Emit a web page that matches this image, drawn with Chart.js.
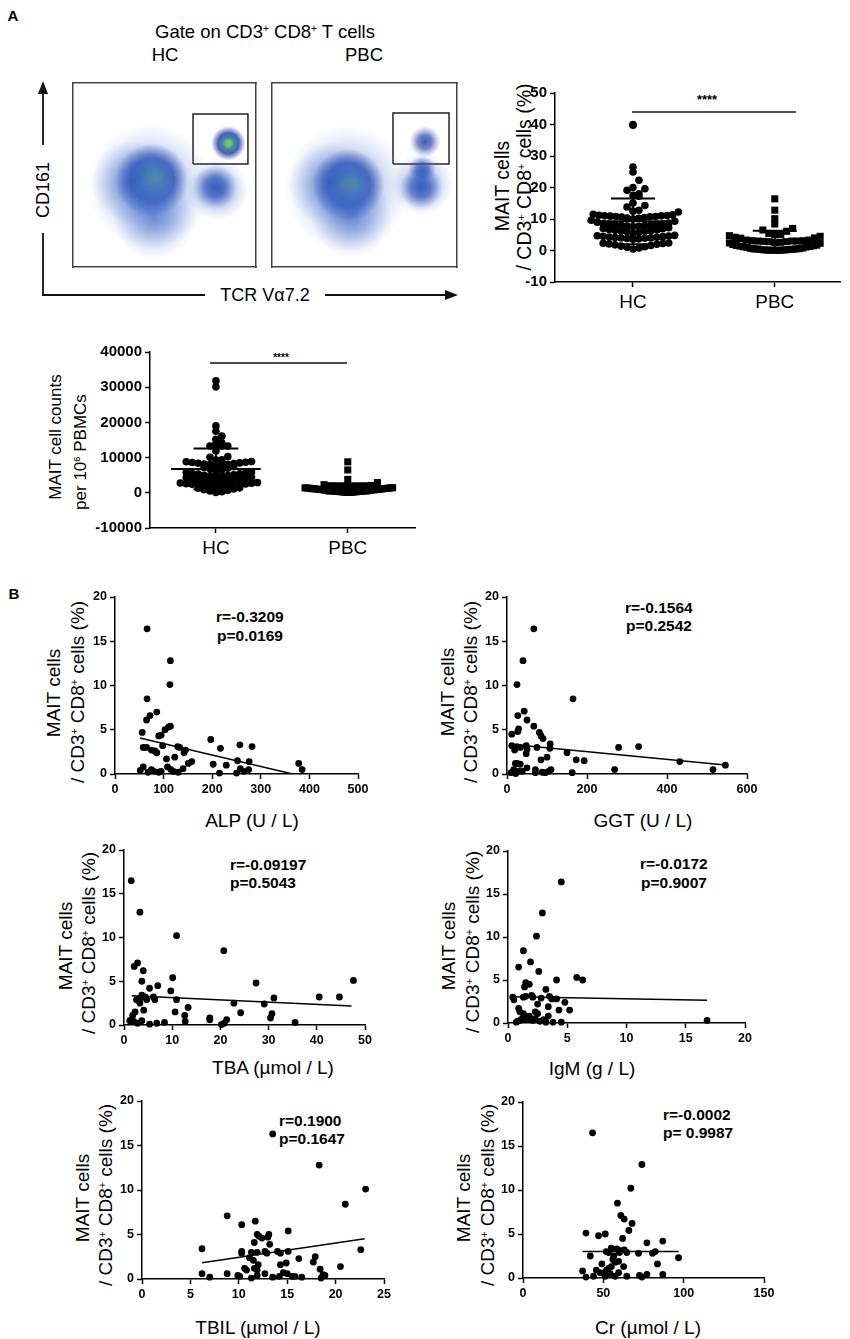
<!DOCTYPE html>
<html>
<head>
<meta charset="utf-8">
<script src="https://cdn.jsdelivr.net/npm/chart.js"></script>
<style>
body { margin: 0; background: #fff; width: 850px; height: 1339px; position: relative; overflow: hidden;
  font-family: Arial, "Liberation Sans", sans-serif; color: #000; }
canvas { position: absolute; }
svg { position: absolute; left: 0; top: 0; }
.t { position: absolute; white-space: nowrap; line-height: 1; transform: translate(-50%, -50%); }
.r { transform: translate(-50%, -50%) rotate(-90deg); }
.l { transform: translate(0, -50%); }
.b { font-weight: bold; }
sup { font-size: 0.55em; vertical-align: 0; position: relative; top: -0.6em; }
</style>
</head>
<body>

<!-- panel A, flow plots -->
<div class="t b" style="left:13px;top:15px;font-size:15px">A</div>
<div class="t" style="left:265px;top:32px;font-size:18.5px">Gate on CD3<sup>+</sup> CD8<sup>+</sup> T cells</div>
<div class="t" style="left:165px;top:55px;font-size:18.5px">HC</div>
<div class="t" style="left:364px;top:55px;font-size:18.5px">PBC</div>
<div class="t r" style="left:43px;top:190px;font-size:18px">CD161</div>
<div class="t" style="left:265px;top:295px;font-size:18px">TCR Vα7.2</div>

<!-- panel A, percentage plot -->
<div class="t r" style="left:503px;top:186px;font-size:19.5px">MAIT cells</div>
<div class="t r" style="left:525px;top:177px;font-size:19.5px">/ CD3<sup>+</sup> CD8<sup>+</sup> cells (%)</div>
<div class="t b" style="left:707px;top:99px;font-size:13px">****</div>

<!-- panel A, counts plot -->
<div class="t r" style="left:55px;top:437px;font-size:17px">MAIT cell counts</div>
<div class="t r" style="left:80px;top:452px;font-size:17px">per 10<sup>6</sup> PBMCs</div>
<div class="t b" style="left:281px;top:358px;font-size:10px">****</div>

<!-- panel B -->
<div class="t b" style="left:14px;top:593px;font-size:15px">B</div>

<div class="t r" style="left:53px;top:693px;font-size:19px">MAIT cells</div>
<div class="t r" style="left:77px;top:692px;font-size:19px">/ CD3<sup>+</sup> CD8<sup>+</sup> cells (%)</div>
<div class="t" style="left:252px;top:820px;font-size:19px">ALP (U / L)</div>
<div class="t l b" style="left:216px;top:617px;font-size:15.5px">r=-0.3209</div>
<div class="t l b" style="left:217px;top:636px;font-size:15.5px">p=0.0169</div>

<div class="t r" style="left:447px;top:692px;font-size:19px">MAIT cells</div>
<div class="t r" style="left:470px;top:692px;font-size:19px">/ CD3<sup>+</sup> CD8<sup>+</sup> cells (%)</div>
<div class="t" style="left:643px;top:820px;font-size:19px">GGT (U / L)</div>
<div class="t l b" style="left:625px;top:608px;font-size:15.5px">r=-0.1564</div>
<div class="t l b" style="left:626px;top:626px;font-size:15.5px">p=0.2542</div>

<div class="t r" style="left:65px;top:946px;font-size:19px">MAIT cells</div>
<div class="t r" style="left:88px;top:943px;font-size:19px">/ CD3<sup>+</sup> CD8<sup>+</sup> cells (%)</div>
<div class="t" style="left:273px;top:1067px;font-size:19px">TBA (µmol / L)</div>
<div class="t l b" style="left:230px;top:865px;font-size:15.5px">r=-0.09197</div>
<div class="t l b" style="left:230px;top:883px;font-size:15.5px">p=0.5043</div>

<div class="t r" style="left:448px;top:946px;font-size:19px">MAIT cells</div>
<div class="t r" style="left:472px;top:942px;font-size:19px">/ CD3<sup>+</sup> CD8<sup>+</sup> cells (%)</div>
<div class="t" style="left:592px;top:1068px;font-size:19px">IgM (g / L)</div>
<div class="t l b" style="left:640px;top:864px;font-size:15.5px">r=-0.0172</div>
<div class="t l b" style="left:641px;top:883px;font-size:15.5px">p=0.9007</div>

<div class="t r" style="left:82px;top:1198px;font-size:19px">MAIT cells</div>
<div class="t r" style="left:105px;top:1195px;font-size:19px">/ CD3<sup>+</sup> CD8<sup>+</sup> cells (%)</div>
<div class="t" style="left:258px;top:1327px;font-size:19px">TBIL (µmol / L)</div>
<div class="t l b" style="left:279px;top:1121px;font-size:15.5px">r=0.1900</div>
<div class="t l b" style="left:279px;top:1139px;font-size:15.5px">p=0.1647</div>

<div class="t r" style="left:463px;top:1198px;font-size:19px">MAIT cells</div>
<div class="t r" style="left:487px;top:1195px;font-size:19px">/ CD3<sup>+</sup> CD8<sup>+</sup> cells (%)</div>
<div class="t" style="left:648px;top:1327px;font-size:19px">Cr (µmol / L)</div>
<div class="t l b" style="left:663px;top:1115px;font-size:15.5px">r=-0.0002</div>
<div class="t l b" style="left:663px;top:1133px;font-size:15.5px">p= 0.9987</div>

<svg width="850" height="1339">
  <g stroke="#111" stroke-width="1.8" fill="none">
    <line x1="43" y1="296" x2="43" y2="233"/>
    <line x1="43" y1="145" x2="43" y2="90"/>
    <line x1="42" y1="295" x2="205" y2="295"/>
    <line x1="325" y1="295" x2="447" y2="295"/>
    <line x1="632" y1="112" x2="796" y2="112" stroke-width="1.5"/>
    <line x1="210" y1="363" x2="347" y2="363" stroke-width="1.5"/>
  </g>
  <polygon points="43,81 38,94 48,94" fill="#111"/>
  <polygon points="458,295 445,290 445,300" fill="#111"/>
</svg>

<script>
// ---------- data ----------
var groups = ["HC", "PBC"];

// MAIT cells / CD3+ CD8+ cells (%)
var hcPct = [40.0, 39.8, 26.5, 24.9, 22.3, 20.0, 19.6, 19.1, 18.0, 17.5, 17.2, 15.1, 14.3, 13.8, 12.8, 12.5, 11.2, 12.2,
  10.0, 10.2, 10.3, 10.5, 10.6, 10.7, 10.8, 10.8, 10.9, 11.0, 11.0, 11.1, 11.3, 11.5,
  7.6, 7.7, 7.8, 7.9, 8.0, 8.0, 8.1, 8.2, 8.3, 8.4, 8.5, 8.7, 9.0, 9.3, 9.6,
  5.5, 5.8, 6.0, 6.1, 6.2, 6.3, 6.4, 6.5, 6.7, 6.9, 7.0, 7.2,
  3.6, 3.7, 3.8, 3.9, 4.0, 4.0, 4.1, 4.2, 4.3, 4.4, 4.5, 4.6, 4.7, 4.8,
  0.5, 0.8, 1.0, 1.2, 1.4, 1.6, 1.8, 2.0, 2.1, 2.2, 2.3, 2.4];
var pbcPct = [16.4, 12.8, 10.1, 8.4, 7.0, 6.5, 6.1, 5.4, 5.1, 5.0, 4.7, 4.5, 4.2, 4.0, 3.9,
  3.3, 3.3, 3.1, 3.1, 3.0, 3.0, 3.0, 2.9, 2.8, 2.8, 2.6, 2.5, 2.4, 2.3,
  1.9, 1.7, 1.6, 1.5, 1.4, 1.3, 1.2, 1.1, 1.0, 0.8, 0.7, 0.6, 0.5, 0.5, 0.5, 0.4, 0.3, 0.3, 0.2, 0.2, 0.1, 0.1, 0.1, 0.1, 0.05];

// MAIT cell counts per 10^6 PBMCs
var hcCount = [31800, 30100, 19000, 17500, 16100, 15200, 14200, 13900, 13300, 13300, 13300, 12900, 11900, 10300, 10100, 9400, 9300,
  7600, 7800, 8000, 8100, 8200, 8300, 8400, 8500, 8600, 8700, 8800, 8900,
  6200, 6500, 6800, 7000, 7200, 7400,
  4600, 4700, 4800, 4900, 5000, 5100, 5300, 5400, 5500, 5600, 5800, 5900,
  3100, 3200, 3300, 3400, 3500, 3700, 3800, 3900, 4000, 4100, 4300, 4400,
  1600, 1700, 1800, 1900, 2000, 2100, 2200, 2300, 2400, 2500, 2600, 2700, 2800, 2900,
  100, 300, 500, 700, 900, 1100, 1300, 1400];
var pbcCount = [8800, 6500, 3800, 2900, 2300, 2100, 1900, 1800, 1700, 1650, 1600, 1550, 1500, 1450, 1400, 1400, 1350, 1300, 1300,
  1250, 1200, 1200, 1150, 1100, 1100, 1050, 1000, 1000, 950, 900, 900, 850, 800, 800, 750, 700, 700, 650, 600, 600,
  550, 500, 500, 450, 400, 400, 350, 300, 300, 250, 200, 200, 150, 100, 100];

// flow cytometry populations (0-1000 plot units): centre and spread
var hcHalo = [{x: 420, y: 440, s: 340}, {x: 330, y: 460, s: 230}, {x: 445, y: 270, s: 230}, {x: 790, y: 420, s: 170}];
var hcCore = [{x: 430, y: 473, s: 200}, {x: 849, y: 672, s: 95}];
var hcSide = [{x: 776, y: 435, s: 120}];
var pbcHalo = [{x: 405, y: 430, s: 340}, {x: 320, y: 450, s: 230}, {x: 430, y: 270, s: 220}, {x: 810, y: 450, s: 170}];
var pbcCore = [{x: 413, y: 446, s: 195}];
var pbcSide = [{x: 805, y: 430, s: 115}, {x: 812, y: 530, s: 75}, {x: 827, y: 681, s: 85}];
var hcGate = [656, 956, 560, 832];
var pbcGate = [654, 957, 560, 837];

// panel B: x = clinical value, y = MAIT %
var alpX = [66, 114, 113, 66, 86, 72, 65, 56, 103, 110, 114, 90, 95, 98, 197, 257, 282, 217, 58, 65, 75, 82, 86, 129, 133, 145, 142,
  106, 123, 151, 158, 202, 229, 252, 276, 378, 385, 52, 58, 68, 75, 80, 90, 95, 108, 115, 120, 130, 140, 215, 250, 258, 265, 275];
var alpY = [16.4, 12.8, 10.1, 8.5, 7.0, 6.6, 6.1, 4.7, 5.0, 5.3, 5.4, 4.3, 4.4, 3.2, 3.9, 3.3, 3.1, 2.9, 3.0, 3.0, 2.7, 2.6, 2.4, 3.1, 3.0, 2.7, 2.4,
  1.7, 1.9, 1.2, 1.4, 1.1, 1.0, 1.5, 1.4, 1.2, 0.5, 0.4, 0.8, 0.2, 0.5, 0.3, 0.2, 0.3, 0.8, 0.5, 0.3, 0.2, 0.6, 0.1, 0.1, 0.6, 0.3, 0.5];
var alpFit = [51, 4.07, 385, -0.25];

var ggtX = [67, 40, 25, 165, 43, 27, 50, 67, 29, 27, 12, 81, 85, 90, 108, 12, 25, 33, 48, 50, 75, 279, 329, 107, 19, 48, 150, 100, 85,
  173, 193, 432, 546, 515, 269, 163, 10, 21, 25, 33, 17, 29, 50, 71, 71, 96, 104, 110, 38, 88, 22];
var ggtY = [16.4, 12.8, 10.1, 8.5, 7.1, 6.6, 6.1, 5.4, 5.1, 4.8, 4.5, 4.7, 4.3, 4.0, 3.4, 3.2, 3.1, 3.0, 3.2, 2.8, 3.0, 3.0, 3.1, 2.9, 2.7, 2.3, 2.4, 1.9, 1.6,
  1.6, 1.5, 1.4, 1.0, 0.5, 0.5, 0.15, 0.15, 1.2, 1.2, 1.1, 0.5, 0.3, 0.7, 0.5, 0.15, 0.15, 0.3, 0.5, 0.3, 0.2, 0.05];
var ggtFit = [8, 3.36, 546, 1.02];

var tbaX = [1.5, 3.3, 10.9, 20.7, 2.8, 2.1, 4.0, 10.1, 47.6, 3.7, 27.4, 7.0, 5.3, 9.7, 40.5, 44.7, 31.1, 3.7, 4.4, 3.3, 6.1, 6.4, 4.7, 10.9, 2.6, 3.3,
  22.8, 29.1, 13.3, 4.1, 24.2, 2.3, 1.8, 10.6, 12.6, 30.7, 30.4, 17.8, 17.8, 1.6, 21.3, 20.8, 35.5, 12.7, 2.8, 3.7, 5.3, 6.8, 8.4, 2.0, 20.2, 1.2];
var tbaY = [16.5, 12.9, 10.2, 8.5, 7.1, 6.7, 6.2, 5.4, 5.1, 5.0, 4.8, 4.5, 4.2, 3.9, 3.2, 3.2, 3.1, 3.4, 3.2, 3.0, 3.2, 2.9, 2.9, 2.9, 2.9, 2.5,
  2.5, 2.4, 2.0, 1.7, 1.4, 1.5, 1.1, 1.5, 1.1, 1.3, 0.8, 0.8, 0.6, 0.6, 0.6, 0.2, 0.3, 0.4, 0.2, 0.5, 0.1, 0.2, 0.3, 0.4, 0.05, 0.5];
var tbaFit = [1.6, 3.35, 47.2, 2.17];

var igmX = [4.5, 2.9, 2.4, 1.3, 1.9, 0.9, 2.6, 5.8, 6.3, 4.1, 1.5, 1.8, 1.4, 3.2, 0.4, 0.5, 1.3, 1.5, 2.0, 2.1, 2.8, 3.5, 3.7, 4.1, 4.8,
  2.5, 0.9, 1.0, 3.4, 4.3, 5.2, 2.3, 2.5, 1.3, 1.5, 1.8, 0.7, 1.0, 2.1, 2.7, 3.2, 3.8, 3.4, 4.5, 16.8, 1.2, 1.6, 2.3, 0.8, 3.0];
var igmY = [16.4, 12.8, 10.1, 8.4, 7.1, 6.5, 6.0, 5.3, 5.0, 5.0, 4.7, 4.5, 4.2, 3.9, 3.0, 2.7, 3.0, 3.1, 3.2, 3.0, 2.9, 3.1, 2.8, 2.8, 2.4,
  2.2, 1.7, 1.3, 1.9, 1.5, 1.5, 1.3, 1.1, 1.1, 0.8, 0.8, 0.1, 0.3, 0.3, 0.2, 0.1, 0.1, 0.8, 0.1, 0.3, 0.5, 0.4, 0.5, 0.2, 0.4];
var igmFit = [0.4, 3.05, 16.8, 2.64];

var tbilX = [13.5, 18.3, 23.1, 21.0, 8.8, 10.3, 11.7, 15.1, 11.9, 12.1, 13.1, 13.0, 12.4, 11.6, 13.2, 6.2, 10.3, 10.3, 11.3, 11.9, 12.7, 12.9,
  14.0, 14.3, 15.1, 22.6, 11.1, 11.5, 12.0, 16.2, 17.9, 17.7, 14.3, 14.9, 10.6, 10.8, 11.6, 11.9, 18.4, 20.5, 6.2, 8.8, 7.0, 9.9, 10.1,
  11.3, 11.9, 12.7, 13.5, 14.2, 14.6, 15.0, 15.5, 15.8, 16.5, 18.5, 18.7, 18.9];
var tbilY = [16.3, 12.8, 10.1, 8.4, 7.1, 6.1, 6.5, 5.4, 5.0, 4.8, 5.0, 4.7, 4.6, 4.1, 3.9, 3.4, 3.1, 2.9, 3.0, 3.0, 3.1, 2.9,
  3.1, 2.9, 3.1, 3.3, 2.4, 2.1, 1.6, 2.3, 2.5, 1.9, 1.6, 1.8, 1.2, 1.0, 1.2, 1.0, 1.1, 1.4, 0.6, 0.6, 0.2, 0.4, 0.3,
  0.1, 0.4, 0.6, 0.2, 0.3, 0.7, 0.6, 0.3, 0.3, 0.2, 0.1, 0.5, 0.4];
var tbilFit = [6.2, 1.83, 23.0, 4.52];

var crX = [43.3, 74.0, 67.1, 58.8, 60.9, 63.0, 67.9, 65.9, 39.2, 51.2, 47.0, 62.0, 77.1, 87.0, 54.9, 58.4, 60.5, 63.0, 51.8, 53.3, 64.6,
  71.9, 80.6, 82.3, 41.9, 96.8, 55.9, 57.4, 49.1, 83.7, 59.5, 62.6, 45.6, 48.1, 53.3, 37.1, 39.2, 43.9, 51.2, 54.3, 59.5, 64.6, 72.5,
  74.0, 77.1, 87.0, 51.2, 57.4, 55.0, 52.0, 56.5, 60.0];
var crY = [16.5, 12.9, 10.2, 8.5, 7.1, 6.7, 6.2, 5.4, 5.1, 5.0, 4.8, 4.5, 4.0, 4.2, 3.4, 3.3, 3.1, 3.2, 3.0, 2.9, 2.9,
  2.8, 2.8, 3.0, 2.5, 2.3, 2.1, 1.8, 1.6, 1.6, 1.9, 1.3, 0.9, 0.6, 1.1, 0.8, 0.1, 0.2, 0.6, 0.5, 0.6, 0.2, 0.3,
  0.1, 0.4, 0.4, 0.2, 0.2, 1.3, 0.9, 2.5, 2.9];
var crFit = [37.1, 3.0, 96.8, 3.0];

// ---------- helpers ----------
var FONT = 'Arial, "Liberation Sans", sans-serif';
var PAD = 16;

function makeCanvas(box, yw, xh) {
  var c = document.createElement('canvas');
  var w = box[2] - box[0] + yw + 2 * PAD, h = box[3] - box[1] + xh + 2 * PAD;
  c.width = w; c.height = h;
  c.style.width = w + 'px'; c.style.height = h + 'px';
  c.style.left = (box[0] - yw - PAD) + 'px';
  c.style.top = (box[1] - PAD) + 'px';
  document.body.appendChild(c);
  return c.getContext('2d');
}

function axis(min, max, step, size, bold, fit) {
  return {
    type: 'linear', min: min, max: max,
    ticks: { stepSize: step, color: '#000', padding: 3, autoSkip: false, maxRotation: 0,
      font: { family: FONT, size: size, weight: bold ? 'bold' : 'normal' },
      callback: function (v) { return String(v); } },
    grid: { display: true, drawOnChartArea: false, drawTicks: true, tickLength: 5, tickColor: '#000', tickWidth: 1.5 },
    border: { display: true, color: '#000', width: 1.5 },
    afterFit: fit
  };
}
function yFit(w) { return function (s) { s.width = w; s.paddingTop = 0; s.paddingBottom = 0; }; }
function xFit(h) { return function (s) { s.height = h; s.paddingLeft = 0; s.paddingRight = 0; }; }

function baseOptions(scales) {
  return {
    animation: false, responsive: false, devicePixelRatio: 1, events: [],
    layout: { padding: PAD },
    plugins: { legend: { display: false }, tooltip: { enabled: false } },
    scales: scales
  };
}

// ---------- flow plots ----------
var palettes = {
  halo: [[0, 'rgba(50,90,195,0.6)'], [0.4, 'rgba(60,105,200,0.4)'], [0.75, 'rgba(90,125,210,0.16)'], [1, 'rgba(120,150,220,0)']],
  core: [[0, 'rgba(130,205,55,1)'], [0.16, 'rgba(100,192,90,0.95)'], [0.34, 'rgba(40,125,165,0.9)'], [0.6, 'rgba(28,58,160,0.8)'], [1, 'rgba(50,80,185,0)']],
  side: [[0, 'rgba(35,80,178,0.9)'], [0.45, 'rgba(40,70,170,0.65)'], [0.8, 'rgba(60,90,190,0.22)'], [1, 'rgba(70,100,200,0)']]
};

function blob(points, pal) {
  return {
    data: points,
    pointRadius: function (c) {
      var ch = c.chart;
      if (!ch.chartArea || !c.raw) return 0;
      return c.raw.s * ch.chartArea.width / 1000;
    },
    pointBorderWidth: 0,
    pointBackgroundColor: function (c) {
      var ch = c.chart;
      if (!ch.chartArea || !c.raw) return 'rgba(0,0,0,0)';
      var x = ch.scales.x.getPixelForValue(c.raw.x), y = ch.scales.y.getPixelForValue(c.raw.y);
      var r = c.raw.s * ch.chartArea.width / 1000;
      var g = ch.ctx.createRadialGradient(x, y, 0, x, y, r);
      palettes[pal].forEach(function (st) { g.addColorStop(st[0], st[1]); });
      return g;
    }
  };
}

function frameAxis(pos) {
  return {
    type: 'linear', min: 0, max: 1000, position: pos,
    ticks: { display: false }, grid: { display: false, drawTicks: false },
    border: { display: true, color: '#444', width: 1.5 },
    afterFit: function (s) { s.width = 0; s.height = 0; s.paddingLeft = 0; s.paddingRight = 0; s.paddingTop = 0; s.paddingBottom = 0; }
  };
}

function flowChart(box, halo, core, side, gate) {
  var ctx = makeCanvas(box, 0, 0);
  var gatePath = [
    { x: gate[0], y: gate[2] }, { x: gate[1], y: gate[2] }, { x: gate[1], y: gate[3] },
    { x: gate[0], y: gate[3] }, { x: gate[0], y: gate[2] }
  ];
  new Chart(ctx, {
    type: 'scatter',
    data: {
      datasets: [
        blob(halo, 'halo'), blob(side, 'side'), blob(core, 'core'),
        { data: gatePath, showLine: true, pointRadius: 0, borderColor: '#222', borderWidth: 1.5, fill: false }
      ]
    },
    options: baseOptions({ x: frameAxis('bottom'), y: frameAxis('left'), x2: frameAxis('top'), y2: frameAxis('right') })
  });
}

flowChart([73, 83, 256, 267], hcHalo, hcCore, hcSide, hcGate);
flowChart([272, 83, 457, 267], pbcHalo, pbcCore, pbcSide, pbcGate);

// ---------- column scatter plots ----------
function swarm(values, center, bin, step, maxHalf) {
  var bins = {};
  values.forEach(function (v) {
    var k = Math.floor(v / bin);
    (bins[k] = bins[k] || []).push(v);
  });
  var pts = [];
  Object.keys(bins).forEach(function (k) {
    var g = bins[k].slice().sort(function (a, b) { return a - b; });
    var half = Math.ceil((g.length - 1) / 2);
    var st = half > 0 ? Math.min(step, maxHalf / half) : step;
    g.forEach(function (v, i) {
      var off = Math.ceil(i / 2) * (i % 2 ? 1 : -1) * st;
      pts.push({ x: center + off, y: v });
    });
  });
  return pts;
}

function meanSd(values) {
  var m = values.reduce(function (a, b) { return a + b; }, 0) / values.length;
  var v = values.reduce(function (a, b) { return a + (b - m) * (b - m); }, 0) / (values.length - 1);
  return [m, Math.sqrt(v)];
}

function errorBars(center, values, meanHalf, capHalf) {
  var ms = meanSd(values), m = ms[0], sd = ms[1];
  var segs = [
    [{ x: center - meanHalf, y: m }, { x: center + meanHalf, y: m }],
    [{ x: center, y: m - sd }, { x: center, y: m + sd }],
    [{ x: center - capHalf, y: m + sd }, { x: center + capHalf, y: m + sd }],
    [{ x: center - capHalf, y: m - sd }, { x: center + capHalf, y: m - sd }]
  ];
  return segs.map(function (s) {
    return { data: s, showLine: true, pointRadius: 0, borderColor: '#000', borderWidth: 2, order: 0, clip: false };
  });
}

function columnPlot(box, yw, xr, yr, ystep, hc, pbc, bin, step, maxHalf, meanHalf, capHalf) {
  var ctx = makeCanvas(box, yw, 32);
  var datasets = [
    { data: swarm(hc, 1, bin, step, maxHalf), pointStyle: 'circle', pointRadius: 3.8, pointBackgroundColor: '#000', pointBorderWidth: 0, order: 1, clip: false },
    { data: swarm(pbc, 2, bin, step, maxHalf), pointStyle: 'rect', pointRadius: 5, pointBackgroundColor: '#000', pointBorderWidth: 0, order: 1, clip: false }
  ].concat(errorBars(1, hc, meanHalf, capHalf), errorBars(2, pbc, meanHalf, capHalf));
  var xa = axis(xr[0], xr[1], 1, 19, false, xFit(32));
  xa.ticks.padding = 4;
  xa.afterBuildTicks = function (s) { s.ticks = [{ value: 1 }, { value: 2 }]; };
  xa.ticks.callback = function (v) { return groups[Math.round(v) - 1]; };
  new Chart(ctx, {
    type: 'scatter',
    data: { datasets: datasets },
    options: baseOptions({ x: xa, y: axis(yr[0], yr[1], ystep, 15, true, yFit(yw)) })
  });
}

columnPlot([555, 93, 840, 282], 40, [0.45, 2.46], [-10, 50], 10, hcPct, pbcPct, 2.5, 0.042, 0.32, 0.32, 0.155);
columnPlot([150, 352, 415, 528], 60, [0.5, 2.51], [-10000, 40000], 10000, hcCount, pbcCount, 1500, 0.045, 0.34, 0.34, 0.17);

// ---------- correlation plots ----------
function corrPlot(box, xmax, xstep, xs, ys, fit) {
  var ctx = makeCanvas(box, 36, 26);
  var pts = xs.map(function (x, i) { return { x: x, y: ys[i] }; });
  new Chart(ctx, {
    type: 'scatter',
    data: {
      datasets: [
        { data: pts, pointRadius: 3.4, pointBackgroundColor: '#000', pointBorderWidth: 0, clip: false },
        { data: [{ x: fit[0], y: fit[1] }, { x: fit[2], y: fit[3] }], showLine: true, pointRadius: 0, borderColor: '#000', borderWidth: 1.5 }
      ]
    },
    options: baseOptions({
      x: axis(0, xmax, xstep, 12.5, true, xFit(26)),
      y: axis(0, 20, 5, 12.5, true, yFit(36))
    })
  });
}

corrPlot([115, 597, 358, 774], 500, 100, alpX, alpY, alpFit);
corrPlot([507, 597, 747, 774], 600, 200, ggtX, ggtY, ggtFit);
corrPlot([124, 850, 365, 1025], 50, 10, tbaX, tbaY, tbaFit);
corrPlot([508, 851, 745, 1023], 20, 5, igmX, igmY, igmFit);
corrPlot([142, 1101, 384, 1279], 25, 5, tbilX, tbilY, tbilFit);
corrPlot([523, 1102, 764, 1278], 150, 50, crX, crY, crFit);
</script>
</body>
</html>
